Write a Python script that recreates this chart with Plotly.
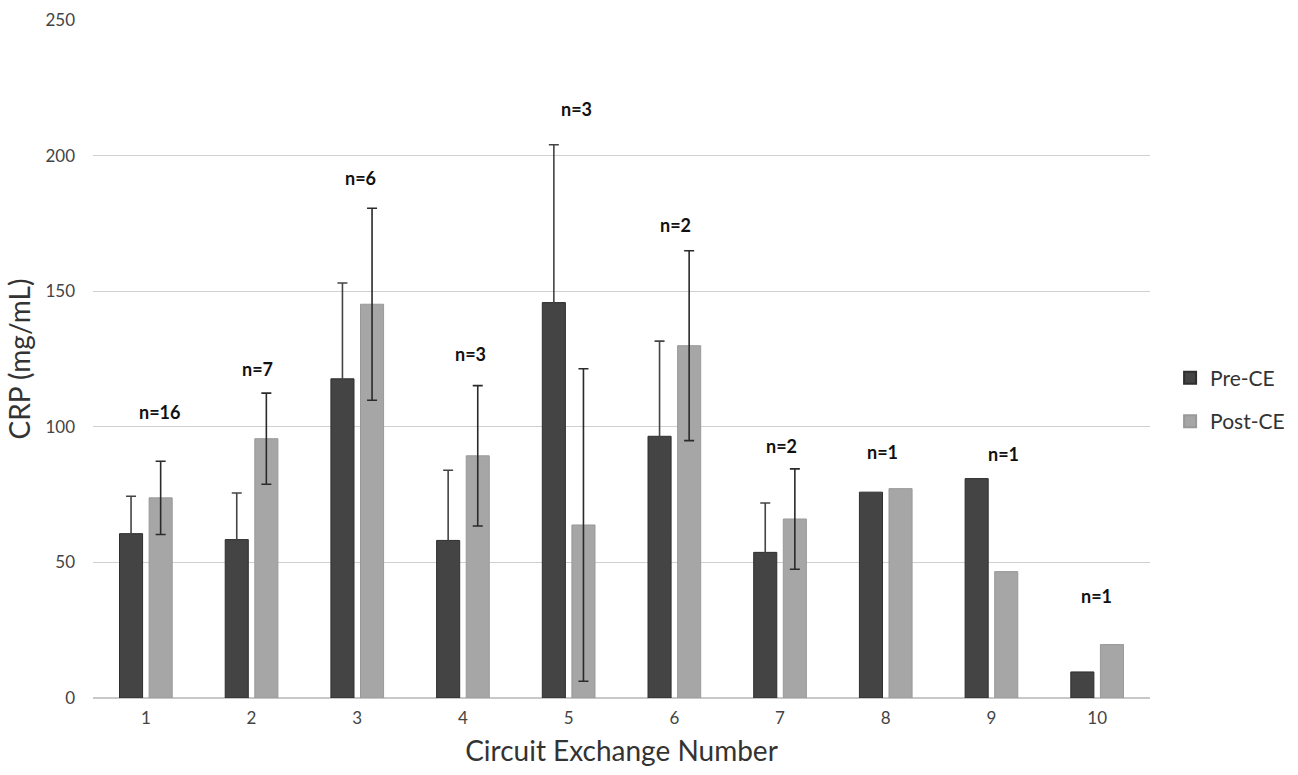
import plotly.graph_objects as go

# Circuit exchange number and CRP means with standard deviations
exchanges = [1, 2, 3, 4, 5, 6, 7, 8, 9, 10]
pre_ce = [60.6, 58.4, 117.7, 58.1, 145.8, 96.5, 53.7, 75.9, 80.9, 9.6]
post_ce = [73.8, 95.6, 145.2, 89.3, 63.8, 129.9, 66.0, 77.2, 46.6, 19.7]
# SD only exists for exchanges 1-7 (exchanges 8-10 have a single patient)
pre_err = [13.8, 17.2, 35.3, 25.9, 58.2, 35.1, 18.2]
post_err = [13.5, 16.8, 35.4, 25.9, 57.6, 35.0, 18.5]
n_labels = ["n=16", "n=7", "n=6", "n=3", "n=3", "n=2", "n=2", "n=1", "n=1", "n=1"]
label_y = [105.5, 121.4, 191.6, 126.8, 217.3, 174.4, 93.1, 90.6, 90.1, 37.7]
label_dx = [14, 6, 3, 8, 8, 1, 1, -3, 12, -1]

FONT = "Lato, 'Open Sans', sans-serif"
PRE_COLOR = "#444444"
POST_COLOR = "#a6a6a6"


def err_spec(vals, color):
    # a shorter array leaves the remaining bars without whiskers
    return dict(type="data", array=vals, visible=True,
                color=color, thickness=1.6, width=5)


fig = go.Figure()
fig.add_trace(go.Bar(
    x=exchanges, y=pre_ce, name="Pre-CE", legendgroup="pre",
    marker=dict(color=PRE_COLOR, line=dict(color="#2e2e2e", width=1)),
    error_y=err_spec(pre_err, PRE_COLOR),
))
fig.add_trace(go.Bar(
    x=exchanges, y=post_ce, name="Post-CE", legendgroup="post",
    marker=dict(color=POST_COLOR, line=dict(color="#999999", width=1)),
    error_y=err_spec(post_err, "#2a2a2a"),
))

for x, y, t, dx in zip(exchanges, label_y, n_labels, label_dx):
    fig.add_annotation(x=x, y=y, text=f"<b>{t}</b>", showarrow=False, xshift=dx,
                       font=dict(family=FONT, size=18, color="#111111"))

fig.update_layout(
    width=1298, height=775,
    margin=dict(l=93, r=148, t=20, b=77, autoexpand=False),
    paper_bgcolor="white", plot_bgcolor="white",
    barmode="group", bargap=0.44, bargroupgap=0.22,
    font=dict(family=FONT, color="#404040"),
    legend=dict(x=1.019, y=0.44, xanchor="left", yanchor="middle",
                font=dict(family=FONT, size=21, color="#333333"),
                itemsizing="constant", tracegroupgap=13),
    xaxis=dict(
        tickmode="array", tickvals=exchanges, ticktext=[str(v) for v in exchanges],
        range=[0.5, 10.5], showgrid=False, showline=False, ticks="",
        ticklabelstandoff=8,
        tickfont=dict(family=FONT, size=17, color="#444444"),
        title=dict(text="Circuit Exchange Number", standoff=14,
                   font=dict(family=FONT, size=28, color="#333333")),
    ),
    yaxis=dict(
        range=[0, 250], dtick=50, showgrid=True, gridcolor="#d0d0d0", gridwidth=1,
        zeroline=True, zerolinecolor="#c8c8c8", zerolinewidth=1.5,
        showline=False, ticks="", ticklabelstandoff=17,
        tickfont=dict(family=FONT, size=17, color="#444444"),
        title=dict(text="CRP (mg/mL)", standoff=6,
                   font=dict(family=FONT, size=28, color="#333333")),
    ),
)

fig.write_html("out.html")
